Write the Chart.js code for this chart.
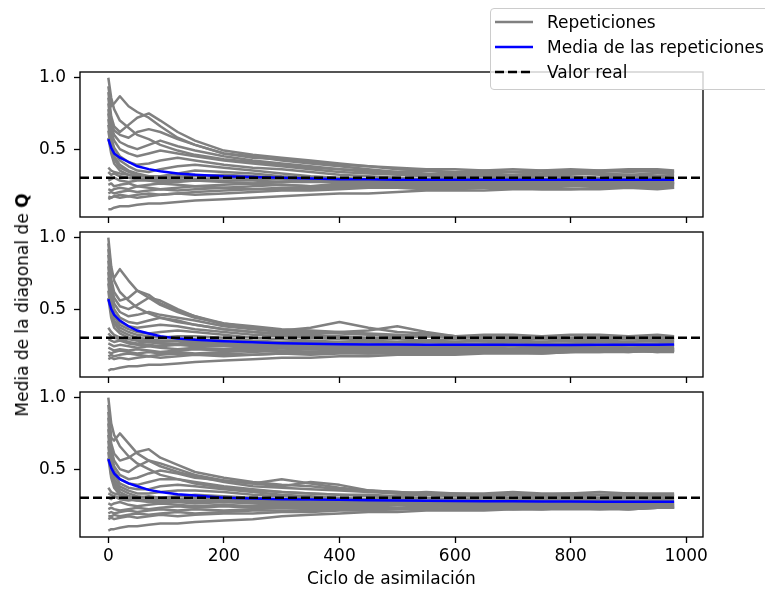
<!DOCTYPE html>
<html>
<head>
<meta charset="utf-8">
<script src="https://cdn.jsdelivr.net/npm/chart.js@4.4.0/dist/chart.umd.min.js"></script>
<style>
  body { margin: 0; width: 765px; height: 590px; overflow: hidden; position: relative; background: #fff; font-family: 'DejaVu Sans', sans-serif; }
  canvas { position: absolute; left: 0; }
  #legend { position: absolute; left: 490px; top: 8px; width: 290px; height: 82px; box-sizing: border-box;
            border: 1px solid #cccccc; border-radius: 4px; background: rgba(255,255,255,0.8); z-index: 5; }
  #legend .row { position: absolute; left: 4px; height: 20px; line-height: 20px; font-size: 17px; color: #000; white-space: nowrap; }
  #legend svg { vertical-align: top; margin-right: 14px; }
  #ylabel { position: absolute; left: 22px; top: 305px; transform: translate(-50%, -50%) rotate(-90deg);
            font-size: 17px; color: #000; white-space: nowrap; }
</style>
</head>
<body>
<canvas id="panel1" width="765" height="165" style="top:62px"></canvas>
<canvas id="panel2" width="765" height="165" style="top:222px"></canvas>
<canvas id="panel3" width="765" height="208" style="top:382px"></canvas>

<div id="ylabel">Media de la diagonal de <b>Q</b></div>

<div id="legend">
  <div class="row" style="top:3px"><svg width="38" height="20"><line x1="0" y1="10" x2="38" y2="10" stroke="#808080" stroke-width="2.5"/></svg>Repeticiones</div>
  <div class="row" style="top:28px"><svg width="38" height="20"><line x1="0" y1="10" x2="38" y2="10" stroke="#0000ff" stroke-width="2.5"/></svg>Media de las repeticiones</div>
  <div class="row" style="top:53px"><svg width="38" height="20"><line x1="0" y1="10" x2="38" y2="10" stroke="#000" stroke-width="2.5" stroke-dasharray="9,4"/></svg>Valor real</div>
</div>

<script>
// ciclos de asimilación en los que se leyeron los valores
const cycles = [0, 5, 10, 20, 35, 50, 70, 90, 120, 150, 200, 250, 300, 350, 400, 450, 500, 550, 600, 650, 700, 750, 800, 850, 900, 950, 979];
const xTickValues = [0, 200, 400, 600, 800, 1000];
const yTickValues = [0.5, 1.0];
const xLimits = [-49, 1029];
const yLimits = [0.025, 1.04];
const trueValue = 0.3;

// panel 1
const panel1Reps = [
  [1.00, 0.86, 0.78, 0.70, 0.65, 0.60, 0.57, 0.53, 0.49, 0.46, 0.43, 0.41, 0.39, 0.37, 0.36, 0.35, 0.34, 0.35, 0.33, 0.34, 0.34, 0.33, 0.35, 0.34, 0.35, 0.34, 0.34],
  [0.94, 0.80, 0.82, 0.87, 0.80, 0.76, 0.72, 0.66, 0.58, 0.53, 0.47, 0.44, 0.43, 0.41, 0.39, 0.38, 0.37, 0.36, 0.36, 0.35, 0.36, 0.35, 0.36, 0.35, 0.36, 0.36, 0.35],
  [0.90, 0.73, 0.66, 0.62, 0.67, 0.72, 0.75, 0.70, 0.62, 0.56, 0.49, 0.46, 0.44, 0.42, 0.40, 0.38, 0.36, 0.35, 0.34, 0.35, 0.34, 0.35, 0.34, 0.35, 0.34, 0.35, 0.34],
  [0.86, 0.69, 0.63, 0.60, 0.58, 0.62, 0.64, 0.62, 0.57, 0.53, 0.47, 0.45, 0.42, 0.40, 0.38, 0.36, 0.34, 0.33, 0.32, 0.33, 0.32, 0.33, 0.34, 0.33, 0.32, 0.33, 0.33],
  [0.82, 0.66, 0.60, 0.55, 0.52, 0.50, 0.53, 0.56, 0.52, 0.49, 0.45, 0.42, 0.40, 0.38, 0.36, 0.34, 0.33, 0.32, 0.31, 0.32, 0.31, 0.32, 0.33, 0.32, 0.32, 0.31, 0.32],
  [0.78, 0.62, 0.56, 0.50, 0.47, 0.45, 0.47, 0.49, 0.47, 0.45, 0.42, 0.40, 0.38, 0.36, 0.34, 0.33, 0.32, 0.31, 0.30, 0.31, 0.30, 0.31, 0.31, 0.30, 0.31, 0.30, 0.30],
  [0.75, 0.58, 0.51, 0.45, 0.41, 0.39, 0.40, 0.42, 0.44, 0.42, 0.39, 0.37, 0.36, 0.34, 0.32, 0.31, 0.30, 0.29, 0.30, 0.29, 0.30, 0.29, 0.30, 0.29, 0.29, 0.30, 0.29],
  [0.71, 0.55, 0.48, 0.42, 0.38, 0.35, 0.34, 0.36, 0.38, 0.39, 0.37, 0.35, 0.33, 0.31, 0.30, 0.29, 0.28, 0.29, 0.28, 0.29, 0.28, 0.28, 0.29, 0.28, 0.28, 0.29, 0.28],
  [0.67, 0.52, 0.45, 0.39, 0.35, 0.33, 0.31, 0.31, 0.33, 0.35, 0.34, 0.33, 0.31, 0.30, 0.28, 0.27, 0.28, 0.27, 0.27, 0.28, 0.27, 0.28, 0.27, 0.28, 0.27, 0.27, 0.28],
  [0.63, 0.50, 0.43, 0.37, 0.34, 0.32, 0.30, 0.29, 0.30, 0.31, 0.32, 0.31, 0.30, 0.28, 0.27, 0.26, 0.27, 0.26, 0.27, 0.26, 0.27, 0.26, 0.27, 0.27, 0.26, 0.27, 0.26],
  [0.58, 0.47, 0.40, 0.35, 0.32, 0.30, 0.28, 0.27, 0.28, 0.29, 0.30, 0.30, 0.29, 0.28, 0.27, 0.28, 0.27, 0.27, 0.26, 0.27, 0.28, 0.27, 0.27, 0.26, 0.27, 0.28, 0.27],
  [0.37, 0.35, 0.34, 0.33, 0.32, 0.31, 0.31, 0.30, 0.31, 0.32, 0.30, 0.29, 0.29, 0.28, 0.28, 0.27, 0.27, 0.26, 0.27, 0.26, 0.26, 0.27, 0.26, 0.26, 0.27, 0.26, 0.26],
  [0.34, 0.32, 0.33, 0.31, 0.30, 0.29, 0.29, 0.28, 0.29, 0.28, 0.28, 0.28, 0.27, 0.27, 0.27, 0.28, 0.27, 0.26, 0.27, 0.26, 0.26, 0.25, 0.26, 0.25, 0.26, 0.26, 0.26],
  [0.28, 0.29, 0.30, 0.28, 0.27, 0.28, 0.28, 0.27, 0.27, 0.28, 0.27, 0.26, 0.27, 0.28, 0.27, 0.27, 0.26, 0.27, 0.26, 0.26, 0.27, 0.26, 0.27, 0.26, 0.27, 0.26, 0.26],
  [0.25, 0.26, 0.24, 0.25, 0.26, 0.24, 0.25, 0.26, 0.25, 0.24, 0.25, 0.26, 0.25, 0.24, 0.26, 0.25, 0.25, 0.26, 0.25, 0.24, 0.25, 0.24, 0.25, 0.25, 0.24, 0.25, 0.25],
  [0.22, 0.21, 0.22, 0.23, 0.22, 0.24, 0.23, 0.22, 0.23, 0.24, 0.23, 0.24, 0.25, 0.24, 0.24, 0.25, 0.24, 0.25, 0.24, 0.25, 0.25, 0.26, 0.25, 0.26, 0.25, 0.26, 0.26],
  [0.19, 0.20, 0.19, 0.20, 0.21, 0.20, 0.21, 0.22, 0.21, 0.22, 0.23, 0.22, 0.23, 0.23, 0.24, 0.23, 0.23, 0.24, 0.24, 0.25, 0.25, 0.24, 0.24, 0.25, 0.25, 0.24, 0.24],
  [0.17, 0.16, 0.17, 0.18, 0.17, 0.18, 0.19, 0.18, 0.19, 0.20, 0.21, 0.22, 0.22, 0.22, 0.23, 0.24, 0.24, 0.23, 0.23, 0.24, 0.24, 0.23, 0.24, 0.24, 0.23, 0.24, 0.24],
  [0.15, 0.16, 0.17, 0.16, 0.17, 0.16, 0.17, 0.18, 0.19, 0.18, 0.19, 0.20, 0.21, 0.21, 0.22, 0.23, 0.23, 0.22, 0.22, 0.23, 0.23, 0.22, 0.22, 0.23, 0.23, 0.23, 0.23],
  [0.08, 0.08, 0.09, 0.10, 0.10, 0.11, 0.12, 0.12, 0.13, 0.14, 0.15, 0.16, 0.17, 0.18, 0.19, 0.19, 0.20, 0.21, 0.21, 0.21, 0.22, 0.22, 0.22, 0.22, 0.23, 0.22, 0.23]
];
const panel1Mean = [0.57, 0.51, 0.47, 0.44, 0.41, 0.38, 0.36, 0.345, 0.33, 0.32, 0.31, 0.305, 0.30, 0.295, 0.29, 0.29, 0.285, 0.285, 0.285, 0.285, 0.285, 0.285, 0.285, 0.285, 0.285, 0.285, 0.285];

// panel 2
const panel2Reps = [
  [1.00, 0.80, 0.70, 0.62, 0.56, 0.51, 0.47, 0.44, 0.41, 0.39, 0.36, 0.34, 0.33, 0.32, 0.31, 0.30, 0.30, 0.31, 0.30, 0.31, 0.30, 0.31, 0.30, 0.31, 0.31, 0.30, 0.31],
  [0.96, 0.76, 0.72, 0.78, 0.70, 0.63, 0.58, 0.53, 0.48, 0.44, 0.40, 0.37, 0.35, 0.34, 0.33, 0.32, 0.31, 0.32, 0.31, 0.32, 0.32, 0.31, 0.32, 0.32, 0.31, 0.32, 0.31],
  [0.92, 0.71, 0.62, 0.56, 0.58, 0.63, 0.60, 0.54, 0.49, 0.45, 0.40, 0.38, 0.36, 0.35, 0.34, 0.33, 0.32, 0.31, 0.30, 0.31, 0.30, 0.31, 0.30, 0.30, 0.31, 0.30, 0.30],
  [0.88, 0.67, 0.58, 0.52, 0.50, 0.53, 0.58, 0.56, 0.50, 0.45, 0.39, 0.37, 0.35, 0.37, 0.41, 0.37, 0.34, 0.33, 0.31, 0.30, 0.31, 0.30, 0.29, 0.30, 0.29, 0.30, 0.29],
  [0.84, 0.63, 0.54, 0.48, 0.45, 0.46, 0.48, 0.46, 0.44, 0.42, 0.38, 0.36, 0.34, 0.33, 0.34, 0.35, 0.38, 0.34, 0.31, 0.30, 0.29, 0.30, 0.29, 0.29, 0.30, 0.29, 0.29],
  [0.80, 0.59, 0.50, 0.44, 0.41, 0.40, 0.42, 0.44, 0.42, 0.39, 0.36, 0.34, 0.32, 0.31, 0.30, 0.29, 0.29, 0.28, 0.29, 0.28, 0.28, 0.29, 0.28, 0.28, 0.29, 0.28, 0.28],
  [0.76, 0.56, 0.47, 0.41, 0.38, 0.37, 0.38, 0.39, 0.38, 0.36, 0.34, 0.32, 0.31, 0.30, 0.29, 0.28, 0.27, 0.28, 0.27, 0.28, 0.27, 0.27, 0.28, 0.27, 0.27, 0.28, 0.27],
  [0.72, 0.53, 0.45, 0.39, 0.36, 0.34, 0.33, 0.34, 0.35, 0.34, 0.32, 0.30, 0.29, 0.28, 0.27, 0.27, 0.26, 0.27, 0.26, 0.26, 0.27, 0.26, 0.26, 0.27, 0.26, 0.26, 0.27],
  [0.68, 0.50, 0.42, 0.37, 0.34, 0.32, 0.31, 0.30, 0.31, 0.31, 0.30, 0.28, 0.27, 0.27, 0.26, 0.25, 0.26, 0.25, 0.25, 0.26, 0.25, 0.25, 0.26, 0.25, 0.25, 0.26, 0.25],
  [0.63, 0.47, 0.40, 0.35, 0.32, 0.30, 0.29, 0.28, 0.28, 0.29, 0.28, 0.27, 0.26, 0.25, 0.25, 0.24, 0.25, 0.24, 0.24, 0.25, 0.24, 0.24, 0.25, 0.24, 0.25, 0.24, 0.25],
  [0.58, 0.44, 0.37, 0.33, 0.30, 0.28, 0.27, 0.26, 0.26, 0.27, 0.26, 0.25, 0.25, 0.24, 0.24, 0.25, 0.24, 0.24, 0.23, 0.24, 0.24, 0.23, 0.24, 0.24, 0.23, 0.24, 0.24],
  [0.37, 0.34, 0.32, 0.30, 0.29, 0.28, 0.28, 0.27, 0.28, 0.27, 0.26, 0.25, 0.25, 0.25, 0.24, 0.24, 0.23, 0.24, 0.23, 0.23, 0.24, 0.23, 0.23, 0.24, 0.23, 0.23, 0.23],
  [0.33, 0.31, 0.30, 0.29, 0.27, 0.26, 0.27, 0.26, 0.25, 0.26, 0.25, 0.24, 0.24, 0.23, 0.23, 0.23, 0.22, 0.23, 0.22, 0.23, 0.22, 0.23, 0.22, 0.23, 0.23, 0.22, 0.23],
  [0.29, 0.28, 0.27, 0.28, 0.26, 0.25, 0.25, 0.24, 0.25, 0.24, 0.24, 0.23, 0.23, 0.22, 0.22, 0.22, 0.22, 0.21, 0.22, 0.22, 0.21, 0.22, 0.22, 0.23, 0.22, 0.22, 0.22],
  [0.26, 0.25, 0.24, 0.25, 0.24, 0.23, 0.24, 0.23, 0.22, 0.23, 0.22, 0.22, 0.21, 0.22, 0.21, 0.21, 0.21, 0.22, 0.21, 0.21, 0.22, 0.21, 0.21, 0.22, 0.22, 0.21, 0.22],
  [0.23, 0.22, 0.21, 0.22, 0.21, 0.22, 0.21, 0.20, 0.21, 0.22, 0.21, 0.20, 0.21, 0.20, 0.20, 0.21, 0.20, 0.21, 0.21, 0.20, 0.21, 0.21, 0.21, 0.22, 0.21, 0.21, 0.21],
  [0.20, 0.19, 0.20, 0.21, 0.20, 0.19, 0.20, 0.19, 0.20, 0.19, 0.20, 0.21, 0.20, 0.20, 0.21, 0.20, 0.20, 0.21, 0.20, 0.21, 0.21, 0.20, 0.21, 0.21, 0.20, 0.21, 0.21],
  [0.17, 0.18, 0.17, 0.18, 0.19, 0.18, 0.17, 0.18, 0.19, 0.18, 0.19, 0.18, 0.19, 0.19, 0.20, 0.19, 0.19, 0.20, 0.20, 0.20, 0.21, 0.20, 0.20, 0.21, 0.21, 0.20, 0.21],
  [0.15, 0.16, 0.15, 0.16, 0.15, 0.16, 0.17, 0.16, 0.17, 0.18, 0.17, 0.18, 0.19, 0.18, 0.19, 0.19, 0.20, 0.19, 0.19, 0.20, 0.20, 0.19, 0.20, 0.20, 0.21, 0.20, 0.20],
  [0.07, 0.08, 0.08, 0.09, 0.10, 0.10, 0.11, 0.11, 0.12, 0.13, 0.14, 0.15, 0.16, 0.16, 0.17, 0.17, 0.18, 0.18, 0.18, 0.19, 0.19, 0.19, 0.20, 0.20, 0.20, 0.21, 0.21]
];
const panel2Mean = [0.57, 0.50, 0.46, 0.42, 0.38, 0.35, 0.33, 0.31, 0.295, 0.285, 0.275, 0.268, 0.262, 0.258, 0.255, 0.253, 0.252, 0.25, 0.25, 0.25, 0.25, 0.249, 0.249, 0.25, 0.25, 0.251, 0.252];

// panel 3
const panel3Reps = [
  [1.00, 0.82, 0.74, 0.66, 0.59, 0.54, 0.50, 0.46, 0.43, 0.40, 0.37, 0.35, 0.34, 0.33, 0.32, 0.32, 0.31, 0.32, 0.31, 0.32, 0.32, 0.31, 0.32, 0.32, 0.31, 0.32, 0.32],
  [0.95, 0.72, 0.70, 0.75, 0.68, 0.61, 0.56, 0.52, 0.48, 0.45, 0.41, 0.38, 0.37, 0.36, 0.35, 0.34, 0.33, 0.34, 0.33, 0.33, 0.34, 0.33, 0.33, 0.34, 0.33, 0.33, 0.33],
  [0.90, 0.68, 0.61, 0.56, 0.58, 0.62, 0.64, 0.58, 0.53, 0.48, 0.44, 0.41, 0.39, 0.38, 0.36, 0.35, 0.34, 0.33, 0.33, 0.32, 0.33, 0.32, 0.33, 0.32, 0.33, 0.32, 0.32],
  [0.86, 0.64, 0.56, 0.50, 0.48, 0.52, 0.56, 0.54, 0.50, 0.46, 0.42, 0.40, 0.43, 0.40, 0.37, 0.35, 0.34, 0.33, 0.32, 0.31, 0.32, 0.31, 0.31, 0.30, 0.31, 0.31, 0.31],
  [0.82, 0.61, 0.52, 0.46, 0.43, 0.44, 0.47, 0.49, 0.47, 0.44, 0.42, 0.40, 0.38, 0.41, 0.39, 0.35, 0.33, 0.32, 0.31, 0.31, 0.30, 0.31, 0.30, 0.30, 0.31, 0.30, 0.30],
  [0.78, 0.57, 0.49, 0.43, 0.40, 0.39, 0.41, 0.43, 0.43, 0.41, 0.38, 0.36, 0.34, 0.33, 0.32, 0.31, 0.30, 0.30, 0.29, 0.30, 0.29, 0.30, 0.29, 0.29, 0.30, 0.29, 0.29],
  [0.74, 0.54, 0.46, 0.40, 0.37, 0.36, 0.36, 0.38, 0.39, 0.38, 0.36, 0.34, 0.32, 0.31, 0.30, 0.29, 0.29, 0.28, 0.29, 0.28, 0.28, 0.29, 0.28, 0.28, 0.28, 0.28, 0.28],
  [0.70, 0.51, 0.43, 0.38, 0.35, 0.33, 0.33, 0.34, 0.35, 0.35, 0.34, 0.32, 0.31, 0.30, 0.29, 0.28, 0.28, 0.27, 0.28, 0.27, 0.27, 0.28, 0.27, 0.27, 0.27, 0.27, 0.27],
  [0.66, 0.49, 0.41, 0.36, 0.33, 0.31, 0.30, 0.30, 0.31, 0.32, 0.31, 0.30, 0.29, 0.29, 0.28, 0.27, 0.27, 0.26, 0.27, 0.26, 0.26, 0.27, 0.26, 0.26, 0.26, 0.26, 0.26],
  [0.62, 0.46, 0.39, 0.34, 0.31, 0.29, 0.28, 0.28, 0.29, 0.30, 0.29, 0.28, 0.28, 0.27, 0.27, 0.26, 0.26, 0.25, 0.26, 0.25, 0.26, 0.25, 0.26, 0.25, 0.25, 0.26, 0.25],
  [0.58, 0.44, 0.37, 0.32, 0.29, 0.28, 0.27, 0.27, 0.28, 0.28, 0.28, 0.27, 0.27, 0.26, 0.26, 0.25, 0.25, 0.25, 0.25, 0.24, 0.25, 0.25, 0.24, 0.25, 0.25, 0.24, 0.25],
  [0.37, 0.34, 0.33, 0.32, 0.31, 0.30, 0.31, 0.30, 0.29, 0.30, 0.29, 0.28, 0.28, 0.27, 0.27, 0.27, 0.26, 0.27, 0.26, 0.26, 0.26, 0.27, 0.26, 0.26, 0.26, 0.26, 0.26],
  [0.33, 0.32, 0.31, 0.30, 0.29, 0.28, 0.29, 0.28, 0.28, 0.27, 0.27, 0.27, 0.26, 0.26, 0.26, 0.25, 0.25, 0.26, 0.25, 0.25, 0.26, 0.25, 0.25, 0.25, 0.25, 0.25, 0.25],
  [0.30, 0.29, 0.31, 0.29, 0.28, 0.29, 0.28, 0.27, 0.27, 0.26, 0.27, 0.26, 0.25, 0.25, 0.25, 0.26, 0.25, 0.24, 0.25, 0.24, 0.24, 0.25, 0.24, 0.24, 0.24, 0.24, 0.24],
  [0.26, 0.25, 0.26, 0.27, 0.25, 0.24, 0.25, 0.26, 0.25, 0.24, 0.25, 0.24, 0.25, 0.24, 0.24, 0.24, 0.25, 0.24, 0.24, 0.24, 0.23, 0.24, 0.24, 0.24, 0.24, 0.23, 0.24],
  [0.22, 0.23, 0.22, 0.21, 0.22, 0.23, 0.22, 0.23, 0.24, 0.23, 0.24, 0.23, 0.24, 0.23, 0.23, 0.24, 0.23, 0.24, 0.24, 0.23, 0.24, 0.24, 0.23, 0.24, 0.24, 0.23, 0.24],
  [0.19, 0.20, 0.19, 0.20, 0.21, 0.20, 0.21, 0.22, 0.21, 0.22, 0.21, 0.22, 0.23, 0.22, 0.22, 0.23, 0.23, 0.22, 0.23, 0.23, 0.22, 0.23, 0.23, 0.22, 0.23, 0.23, 0.23],
  [0.17, 0.17, 0.18, 0.17, 0.18, 0.19, 0.18, 0.19, 0.20, 0.19, 0.20, 0.21, 0.21, 0.21, 0.22, 0.22, 0.22, 0.23, 0.22, 0.22, 0.23, 0.22, 0.23, 0.23, 0.22, 0.23, 0.23],
  [0.15, 0.16, 0.15, 0.16, 0.17, 0.16, 0.17, 0.18, 0.17, 0.18, 0.19, 0.19, 0.20, 0.20, 0.21, 0.21, 0.22, 0.22, 0.22, 0.23, 0.22, 0.22, 0.23, 0.23, 0.22, 0.23, 0.23],
  [0.07, 0.08, 0.08, 0.09, 0.10, 0.10, 0.11, 0.12, 0.12, 0.13, 0.14, 0.15, 0.17, 0.18, 0.19, 0.20, 0.20, 0.21, 0.21, 0.21, 0.22, 0.22, 0.22, 0.22, 0.22, 0.23, 0.23]
];
const panel3Mean = [0.57, 0.51, 0.47, 0.43, 0.40, 0.38, 0.355, 0.34, 0.325, 0.315, 0.30, 0.295, 0.29, 0.287, 0.285, 0.282, 0.28, 0.278, 0.277, 0.276, 0.275, 0.274, 0.273, 0.272, 0.272, 0.271, 0.271];

Chart.defaults.font.family = "'DejaVu Sans', sans-serif";
Chart.defaults.font.size = 17;
Chart.defaults.color = '#000';

// marco completo alrededor del area de datos
const frameBox = {
  id: 'frameBox',
  afterDraw(chart) {
    const { ctx, chartArea } = chart;
    ctx.save();
    ctx.strokeStyle = '#000';
    ctx.lineWidth = 1.33;
    ctx.strokeRect(chartArea.left, chartArea.top, chartArea.right - chartArea.left, chartArea.bottom - chartArea.top);
    ctx.restore();
  }
};

function toPoints(values) {
  return values.map((v, i) => ({ x: cycles[i], y: v }));
}

function renderPanel(canvasId, reps, mean, isBottom) {
  const ctx = document.getElementById(canvasId).getContext('2d');

  const datasets = [{
    label: 'Valor real',
    data: [{ x: xLimits[0], y: trueValue }, { x: xLimits[1], y: trueValue }],
    borderColor: '#000',
    borderWidth: 2.5,
    borderDash: [9, 4],
    order: 0
  }, {
    label: 'Media de las repeticiones',
    data: toPoints(mean),
    borderColor: '#0000ff',
    borderWidth: 2.5,
    order: 1
  }];
  reps.forEach(r => {
    datasets.push({
      label: 'Repeticiones',
      data: toPoints(r),
      borderColor: '#808080',
      borderWidth: 2.5,
      borderJoinStyle: 'round',
      order: 2
    });
  });

  return new Chart(ctx, {
    type: 'line',
    data: { datasets: datasets },
    options: {
      responsive: false,
      animation: false,
      devicePixelRatio: 1,
      layout: { padding: { top: 10, right: 62, left: 0, bottom: 0 } },
      elements: { point: { radius: 0 }, line: { tension: 0 } },
      plugins: { legend: { display: false }, tooltip: { enabled: false } },
      scales: {
        x: {
          type: 'linear',
          min: xLimits[0],
          max: xLimits[1],
          afterBuildTicks: function (scale) {
            scale.ticks = xTickValues.map(v => ({ value: v }));
          },
          afterFit: function (scale) {
            scale.height = isBottom ? 53 : 10;
          },
          ticks: {
            autoSkip: false,
            maxRotation: 0,
            padding: 3,
            callback: function (value) {
              return isBottom ? String(value) : '';
            }
          },
          grid: { drawOnChartArea: false, drawTicks: true, tickLength: 6, tickWidth: 1.33, tickColor: '#000' },
          border: { display: false },
          title: {
            display: isBottom,
            text: 'Ciclo de asimilación',
            padding: { top: 0, bottom: 0 }
          }
        },
        y: {
          min: yLimits[0],
          max: yLimits[1],
          afterBuildTicks: function (scale) {
            scale.ticks = yTickValues.map(v => ({ value: v }));
          },
          afterFit: function (scale) {
            scale.width = 80;
            scale.paddingTop = 0;
            scale.paddingBottom = 0;
          },
          ticks: {
            padding: 8,
            callback: function (value) {
              return value.toFixed(1);
            }
          },
          grid: { drawOnChartArea: false, drawTicks: true, tickLength: 6, tickWidth: 1.33, tickColor: '#000' },
          border: { display: false }
        }
      }
    },
    plugins: [frameBox]
  });
}

renderPanel('panel1', panel1Reps, panel1Mean, false);
renderPanel('panel2', panel2Reps, panel2Mean, false);
renderPanel('panel3', panel3Reps, panel3Mean, true);
</script>
</body>
</html>
